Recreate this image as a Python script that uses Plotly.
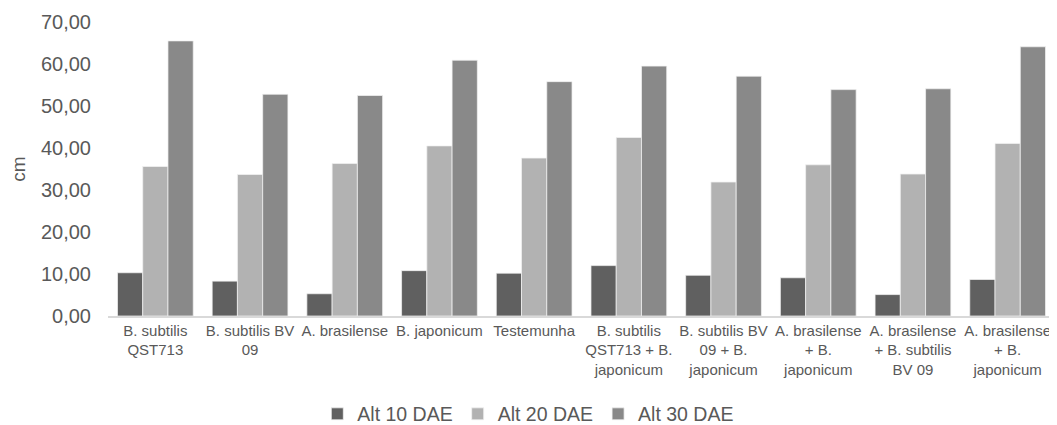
import plotly.graph_objects as go

categories = [
    "B. subtilis<br>QST713",
    "B. subtilis BV<br>09",
    "A. brasilense",
    "B. japonicum",
    "Testemunha",
    "B. subtilis<br>QST713 + B.<br>japonicum",
    "B. subtilis BV<br>09 + B.<br>japonicum",
    "A. brasilense<br>+ B.<br>japonicum",
    "A. brasilense<br>+ B. subtilis<br>BV 09",
    "A. brasilense<br>+ B.<br>japonicum",
]
alt10 = [10.3, 8.3, 5.3, 10.8, 10.2, 12.0, 9.7, 9.1, 5.1, 8.7]
alt20 = [35.6, 33.7, 36.3, 40.5, 37.6, 42.5, 31.9, 36.0, 33.8, 41.1]
alt30 = [65.5, 52.8, 52.5, 60.9, 55.8, 59.5, 57.1, 53.9, 54.1, 64.1]
series_names = ["Alt 10 DAE", "Alt 20 DAE", "Alt 30 DAE"]
series_colors = ["#606060", "#b2b2b2", "#898989"]
y_ticks = [0, 10, 20, 30, 40, 50, 60, 70]

x_pos = list(range(len(categories)))

fig = go.Figure()
for name, vals, col in zip(series_names, [alt10, alt20, alt30], series_colors):
    fig.add_trace(go.Bar(
        x=x_pos, y=vals, name=name,
        marker=dict(color=col, line=dict(color="#f2f2f2", width=0.75)),
    ))

txt = "#595959"
# page body has an 8px margin, so the figure is sized 8px smaller
fig.update_layout(
    width=1049, height=417,
    barmode="group", bargap=0.2, bargroupgap=0,
    paper_bgcolor="white", plot_bgcolor="white",
    margin=dict(l=100, r=2, t=14, b=109),
    font=dict(family="Liberation Sans, Arial, sans-serif", color=txt, size=19),
    separators=",.",
    showlegend=True,
    legend=dict(
        orientation="h", xref="container", yref="container",
        x=0.496, xanchor="center", y=0.026, yanchor="middle",
        font=dict(size=19.5, color=txt), itemwidth=30, traceorder="normal",
    ),
)
fig.update_xaxes(
    tickmode="array", tickvals=x_pos, ticktext=categories,
    range=[-0.5, len(categories) - 0.5],
    showline=True, linecolor="#d9d9d9", linewidth=1.5,
    showgrid=False, zeroline=False, ticks="",
    tickfont=dict(size=15, color=txt), tickangle=0,
)
fig.update_yaxes(
    range=[0, 70], tickvals=y_ticks, tickformat=".2f",
    showgrid=False, zeroline=False, showline=False, ticks="",
    ticklabelstandoff=16,
    tickfont=dict(size=20, color=txt),
    title=dict(text="cm", font=dict(size=19, color=txt), standoff=12),
)

fig.write_html("out.html")
